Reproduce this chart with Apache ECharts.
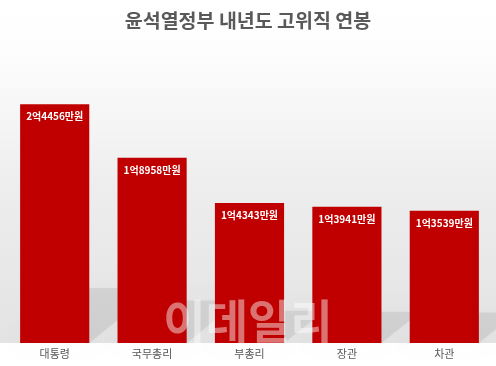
<!DOCTYPE html>
<html>
<head>
<meta charset="utf-8">
<script src="https://cdn.jsdelivr.net/npm/echarts@6/dist/echarts.min.js"></script>
<style>html,body{margin:0;padding:0;background:#fff}#c{width:496px;height:366px}</style>
</head>
<body>
<div id="c"></div>
<script>
var titleText = '윤석열정부 내년도 고위직 연봉';
var categories = ['대통령', '국무총리', '부총리', '장관', '차관'];
var salaries = [24456, 18958, 14343, 13941, 13539]; // 만원
var watermark = '이데일리';

function fmt(v) {
  var eok = Math.floor(v / 10000), man = v % 10000;
  return eok + '억' + man + '만원';
}

var FONT = '"Noto Sans CJK KR", "Noto Sans", sans-serif';
var chart = echarts.init(document.getElementById('c'), null, {renderer: 'canvas'});
chart.setOption({
  animation: false,
  backgroundColor: '#ffffff',
  title: {
    text: titleText, left: 'center', top: 6,
    textStyle: {fontFamily: FONT, fontSize: 19.5, fontWeight: 'bold', color: '#595959'}
  },
  graphic: [
    {type: 'rect', z: -10, silent: true, shape: {x: 0, y: 0, width: 496, height: 343},
     style: {fill: new echarts.graphic.LinearGradient(0, 0, 0, 1, [
       {offset: 0, color: '#ffffff'}, {offset: 0.15, color: '#fdfdfd'},
       {offset: 0.55, color: '#ededed'}, {offset: 1, color: '#e3e3e3'}])}},
    {type: 'text', z: 100, silent: true, left: 'center', top: 298,
     style: {text: watermark, font: 'bold 46px ' + FONT, fill: 'rgba(255,255,255,0.45)'}}
  ],
  grid: {left: 6, right: 3, top: 50, bottom: 23},
  xAxis: {
    type: 'category', data: categories,
    axisLine: {show: false}, axisTick: {show: false},
    axisLabel: {fontFamily: FONT, fontSize: 11, color: '#595959', margin: 5}
  },
  yAxis: {type: 'value', min: 0, max: 30000, show: false, splitLine: {show: false}},
  series: [
    {
      type: 'custom', z: 1, silent: true, data: salaries,
      renderItem: function (params, api) {
        var idx = params.dataIndex;
        var base = api.coord([idx, 0]);
        var top = api.coord([idx, api.value(0)]);
        var bw = api.size([1, 0])[0] * 0.71;
        var h = base[1] - top[1];
        var dy = 0.23 * h, dx = dy / 0.8;
        var x0 = base[0] - bw / 2, x1 = base[0] + bw / 2, by = base[1];
        return {
          type: 'polygon',
          shape: {points: [[x0, by], [x1, by], [x1 + dx, by - dy], [x0 + dx, by - dy]]},
          style: {fill: 'rgba(0,0,0,0.08)', shadowBlur: 14, shadowColor: 'rgba(0,0,0,0.14)'}
        };
      },
      encode: {x: -1, y: 0}
    },
    {
      type: 'bar', z: 5, data: salaries, barWidth: '71%',
      itemStyle: {color: '#c00000'},
      label: {
        show: true, position: 'insideTop', distance: 7,
        formatter: function (p) { return fmt(p.value); },
        fontFamily: FONT, fontSize: 10, fontWeight: 'bold', color: '#ffffff'
      }
    }
  ]
});
</script>
</body>
</html>
